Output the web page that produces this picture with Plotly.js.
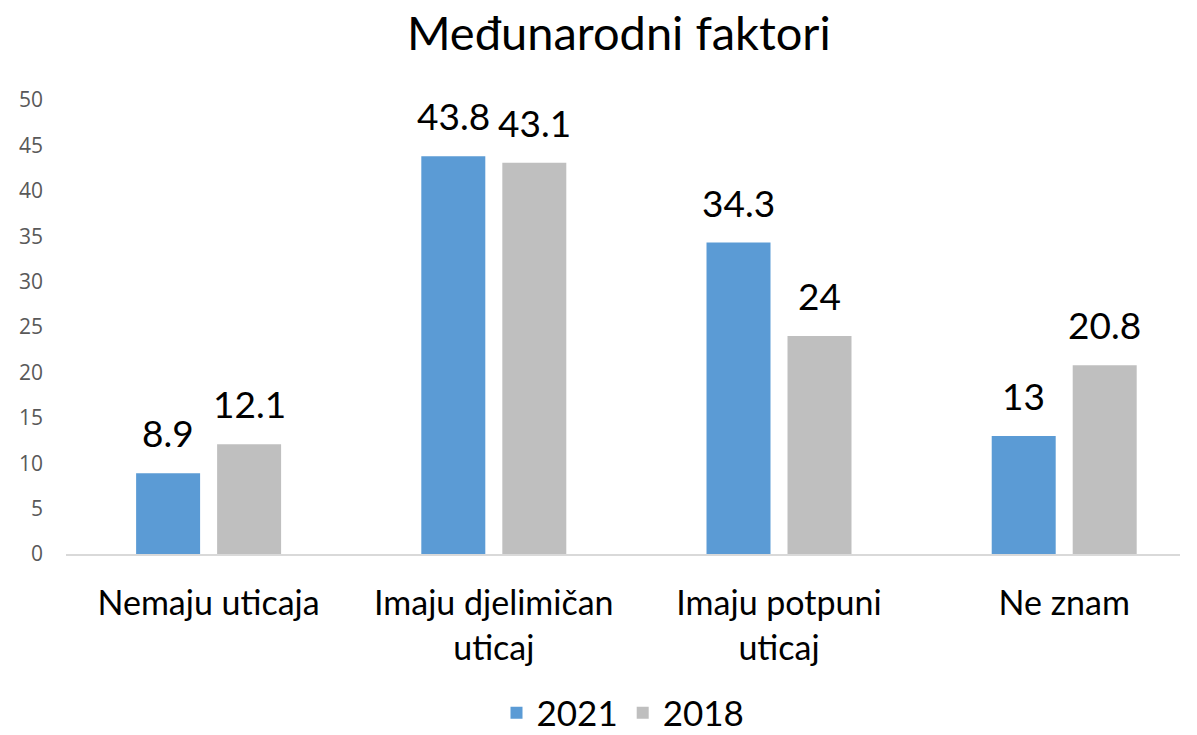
<!DOCTYPE html>
<html>
<head>
<meta charset="utf-8">
<script src="https://cdn.plot.ly/plotly-3.0.1.min.js"></script>
<style>html,body{margin:0;padding:0;background:#fff;}#chart{width:1197px;height:735px;}</style>
</head>
<body>
<div id="chart"></div>
<script>
const categories = ["Nemaju uticaja", "Imaju djelimičan<br>uticaj", "Imaju potpuni<br>uticaj", "Ne znam"];
const values2021 = [8.9, 43.8, 34.3, 13];
const values2018 = [12.1, 43.1, 24, 20.8];
const seriesNames = ["2021", "2018"];
const seriesColors = ["#5B9BD5", "#BFBFBF"];
const yTicks = [0, 5, 10, 15, 20, 25, 30, 35, 40, 45, 50];

const font = "Lato, 'Open Sans', sans-serif";
const allSeries = [values2021, values2018];
const traces = allSeries.map((vals, i) => ({
  type: "bar", name: seriesNames[i], x: categories, y: vals,
  marker: {color: seriesColors[i]}, hoverinfo: "none"
}));

// data labels above bars, placed via annotations on the axes (offset per group slot)
const slotPx = 81;
const annotations = [];
allSeries.forEach((vals, i) => {
  vals.forEach((v, j) => {
    annotations.push({
      x: categories[j], y: v, xref: "x", yref: "y",
      text: String(v), showarrow: false,
      xanchor: "center", yanchor: "bottom",
      xshift: (i === 0 ? -1 : 1) * slotPx / 2, yshift: 16,
      font: {size: 37, color: "#000", family: font}
    });
  });
});

const layout = {
  width: 1197, height: 735,
  paper_bgcolor: "#fff", plot_bgcolor: "#fff",
  margin: {l: 66, r: 17, t: 100, b: 181, autoexpand: false},
  title: {text: "Međunarodni faktori", x: 0.517, xanchor: "center", y: 0.955, yanchor: "middle",
          font: {size: 47, color: "#000", family: font}},
  barmode: "group", bargap: 0.432, bargroupgap: 0.21,
  showlegend: true,
  legend: {orientation: "h", x: 0.5, xanchor: "center", y: -0.35, yanchor: "middle",
           font: {size: 35, color: "#000", family: font}, traceorder: "normal"},
  annotations: annotations,
  xaxis: {range: [-0.5, 3.406], showline: true, linecolor: "#D9D9D9", linewidth: 1.5, ticks: "",
          showgrid: false, automargin: false, tickfont: {size: 34, color: "#000", family: font}, ticklabelstandoff: 19},
  yaxis: {range: [0, 50], tickvals: yTicks, showgrid: false, zeroline: false, showline: false,
          automargin: false, ticks: "", tickfont: {size: 21, color: "#595959", family: "'Open Sans', sans-serif"},
          ticklabelstandoff: 22}
};
Plotly.newPlot("chart", traces, layout, {displayModeBar: false, staticPlot: true});
</script>
</body>
</html>
